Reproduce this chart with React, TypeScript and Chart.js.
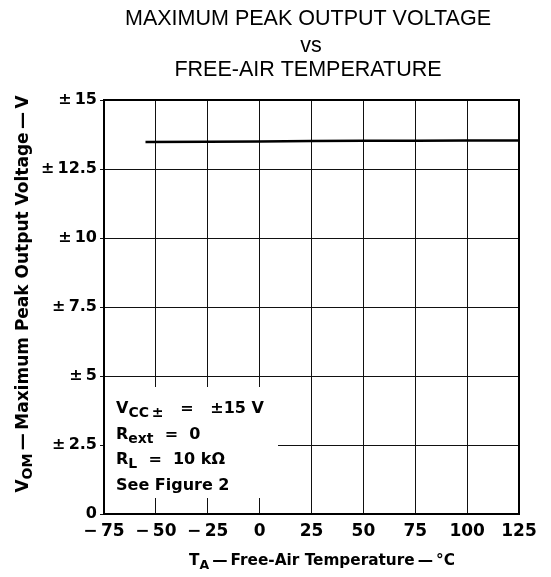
import React, { useEffect, useRef } from "react";
import { Chart, registerables } from "chart.js";

Chart.register(...registerables);

// ---- data ----
const temperatures = [-55, -25, 0, 25, 50, 75, 100, 125];
const vomValues = [13.48, 13.49, 13.5, 13.51, 13.52, 13.52, 13.53, 13.53];

const xTickValues = [-75, -50, -25, 0, 25, 50, 75, 100, 125];
const xTickLabels = ["−\u200975", "−\u200950", "−\u200925", "0", "25", "50", "75", "100", "125"];
const yTickValues = [0, 2.5, 5, 7.5, 10, 12.5, 15];
const yTickLabels = ["0", "±\u20092.5", "±\u20095", "±\u20097.5", "±\u200910", "±\u200912.5", "±\u200915"];

const titleLines = ["MAXIMUM PEAK OUTPUT VOLTAGE", "vs", "FREE-AIR TEMPERATURE"];

type Seg = { t: string; sub?: boolean };
const xTitle: Seg[] = [{ t: "T" }, { t: "A", sub: true }, { t: "\u2009—\u2009Free-Air Temperature\u2009—\u2009°C" }];
const yTitle: Seg[] = [{ t: "V" }, { t: "OM", sub: true }, { t: "\u2009—\u2009Maximum Peak Output Voltage\u2009—\u2009V" }];
const noteLines: Seg[][] = [
  [{ t: "V" }, { t: "CC\u2009±", sub: true }, { t: "   =   ±15 V" }],
  [{ t: "R" }, { t: "ext", sub: true }, { t: "  =  0" }],
  [{ t: "R" }, { t: "L", sub: true }, { t: "  =  10 kΩ" }],
  [{ t: "See Figure 2" }],
];

const TITLE_FONT = "'Liberation Sans', Arial, Helvetica, sans-serif";
const BOLD_FONT = "'DejaVu Sans', Verdana, sans-serif";

function segWidth(ctx: CanvasRenderingContext2D, segs: Seg[], size: number, subSize: number) {
  let w = 0;
  for (const s of segs) {
    ctx.font = `bold ${s.sub ? subSize : size}px ${BOLD_FONT}`;
    w += ctx.measureText(s.t).width;
  }
  return w;
}

function drawSegs(ctx: CanvasRenderingContext2D, segs: Seg[], x: number, y: number, size: number, subSize: number, subDrop: number) {
  let cx = x;
  ctx.textAlign = "left";
  ctx.textBaseline = "alphabetic";
  for (const s of segs) {
    ctx.font = `bold ${s.sub ? subSize : size}px ${BOLD_FONT}`;
    ctx.fillText(s.t, cx, s.sub ? y + subDrop : y);
    cx += ctx.measureText(s.t).width;
  }
}

const decorPlugin = {
  id: "decor",
  beforeDatasetsDraw(chart: any) {
    const { ctx, chartArea } = chart;
    ctx.save();
    ctx.fillStyle = "#fff";
    ctx.fillRect(chartArea.left + 1, chartArea.bottom - 127, 173, 111);
    ctx.restore();
  },
  afterDraw(chart: any) {
    const { ctx, chartArea } = chart;
    ctx.save();
    // frame
    ctx.strokeStyle = "#000";
    ctx.lineWidth = 2;
    ctx.strokeRect(chartArea.left, chartArea.top, chartArea.right - chartArea.left, chartArea.bottom - chartArea.top);

    ctx.fillStyle = "#000";
    // main title
    ctx.font = `21.5px ${TITLE_FONT}`;
    ctx.textAlign = "center";
    ctx.textBaseline = "alphabetic";
    const tcx = 308;
    ctx.fillText(titleLines[0], tcx, 25);
    ctx.fillText(titleLines[1], tcx + 3, 52);
    ctx.fillText(titleLines[2], tcx, 76);

    // x axis title
    const xw = segWidth(ctx, xTitle, 15.3, 12.5);
    drawSegs(ctx, xTitle, 322 - xw / 2, 565, 15.3, 12.5, 4);

    // y axis title (rotated)
    ctx.save();
    ctx.translate(28, 294);
    ctx.rotate(-Math.PI / 2);
    const yw = segWidth(ctx, yTitle, 17, 14);
    drawSegs(ctx, yTitle, -yw / 2, 0, 17, 14, 4);
    ctx.restore();

    // conditions note
    const nx = chartArea.left + 12;
    let ny = chartArea.bottom - 101;
    for (const line of noteLines) {
      drawSegs(ctx, line, nx, ny, 16, 14, 4);
      ny += 25.5;
    }
    ctx.restore();
  },
};

export default function App() {
  const ref = useRef<HTMLCanvasElement | null>(null);
  useEffect(() => {
    if (!ref.current) return;
    const chart = new Chart(ref.current, {
      type: "line",
      data: {
        datasets: [
          {
            data: temperatures.map((t, i) => ({ x: t, y: vomValues[i] })),
            borderColor: "#000",
            borderWidth: 2.5,
            pointRadius: 0,
            tension: 0,
            fill: false,
          },
        ],
      },
      options: {
        responsive: false,
        animation: false,
        events: [],
        layout: { padding: { left: 0, top: 100, right: 32, bottom: 0 } },
        plugins: {
          legend: { display: false },
          title: { display: false },
          tooltip: { enabled: false },
        },
        scales: {
          x: {
            type: "linear",
            min: xTickValues[0],
            max: xTickValues[xTickValues.length - 1],
            afterBuildTicks: (scale: any) => {
              scale.ticks = xTickValues.map((v) => ({ value: v }));
            },
            afterFit: (scale: any) => {
              scale.height = 63;
            },
            ticks: {
              color: "#000",
              font: { family: BOLD_FONT, size: 17, weight: "bold" },
              padding: 7,
              maxRotation: 0,
              autoSkip: false,
              callback: (v: any) => {
                const i = xTickValues.indexOf(Number(v));
                return i >= 0 ? xTickLabels[i] : "";
              },
            },
            grid: { color: "#111", lineWidth: 1, drawTicks: false },
            border: { color: "#000", width: 2 },
          },
          y: {
            type: "linear",
            min: yTickValues[0],
            max: yTickValues[yTickValues.length - 1],
            afterBuildTicks: (scale: any) => {
              scale.ticks = yTickValues.map((v) => ({ value: v }));
            },
            afterFit: (scale: any) => {
              scale.width = 104;
            },
            ticks: {
              color: "#000",
              font: { family: BOLD_FONT, size: 16, weight: "bold" },
              padding: 3,
              autoSkip: false,
              callback: (v: any) => {
                const i = yTickValues.indexOf(Number(v));
                return i >= 0 ? yTickLabels[i] : "";
              },
            },
            grid: { color: "#111", lineWidth: 1, tickLength: 4 },
            border: { color: "#000", width: 2 },
          },
        },
      },
      plugins: [decorPlugin],
    });
    return () => chart.destroy();
  }, []);

  return (
    <div style={{ position: "absolute", left: 0, top: 0, width: 551, height: 577, background: "#fff" }}>
      <canvas ref={ref} width={551} height={577} style={{ display: "block" }} />
    </div>
  );
}
